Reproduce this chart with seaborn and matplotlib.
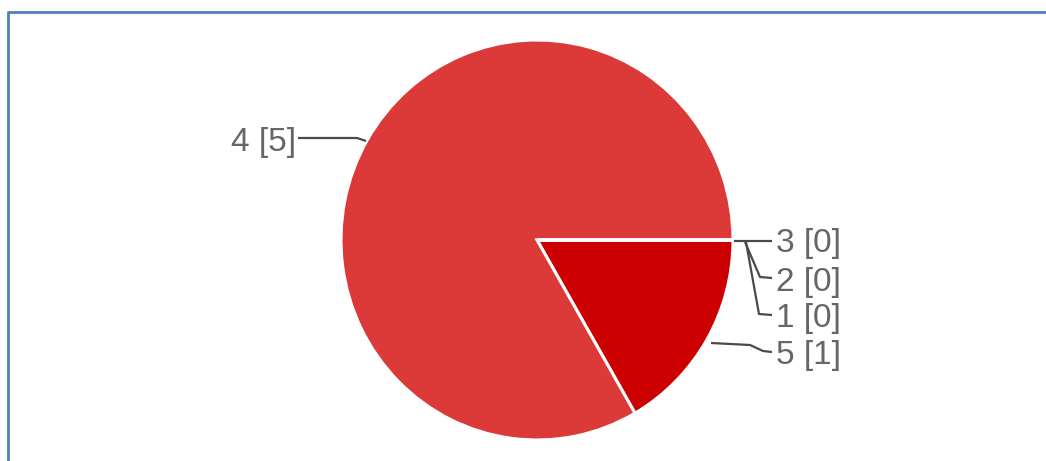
import matplotlib
matplotlib.use("Agg")
import matplotlib.pyplot as plt
import seaborn as sns

# Data
categories = ["5", "4", "3", "2", "1"]
counts = [1, 5, 0, 0, 0]
slice_colors = ["#cc0000", "#dc3939", "#dc3939", "#dc3939", "#dc3939"]

sns.set_theme(style="white")
plt.rcParams["font.family"] = ["Liberation Sans", "DejaVu Sans"]

W, H = 1046, 461
SY = 200 / 196  # slight vertical stretch of the source image

def P(px, py):
    return px, py / SY

fig = plt.figure(figsize=(W / 100, H / 100), dpi=100)
fig.patch.set_facecolor("white")
ax = fig.add_axes([0, 0, 1, 1])

cx, cy = P(537, 240)
ax.pie(counts, colors=slice_colors, startangle=0, counterclock=True,
       center=(cx, cy), radius=196,
       wedgeprops=dict(edgecolor="white", linewidth=2.2))
ax.set_xlim(0, W)
ax.set_ylim(H / SY, 0)
ax.set_aspect("auto")
ax.axis("off")

labels = {c: f"{c} [{n}]" for c, n in zip(categories, counts)}
txt_color = "#666666"
line_color = "#4a4a4a"
fs = 24

def leader(points):
    xs, ys = zip(*[P(x, y) for x, y in points])
    ax.plot(xs, ys, color=line_color, lw=1.6, solid_capstyle="butt")

# 4 [5]
leader([(298, 138), (357, 138), (366, 141)])
ax.text(*P(296, 142), labels["4"], ha="right", va="center", fontsize=fs, color=txt_color)

# right side labels
leader([(734, 241), (772, 241)])
ax.text(*P(776, 243), labels["3"], ha="left", va="center", fontsize=fs, color=txt_color)
leader([(745, 242), (760, 277), (772, 278)])
ax.text(*P(776, 282), labels["2"], ha="left", va="center", fontsize=fs, color=txt_color)
leader([(746, 242), (759, 314), (772, 315)])
ax.text(*P(776, 318), labels["1"], ha="left", va="center", fontsize=fs, color=txt_color)
leader([(711, 343), (750, 345), (763, 351), (772, 352)])
ax.text(*P(776, 355), labels["5"], ha="left", va="center", fontsize=fs, color=txt_color)

# frame lines (top and left) of the source screenshot
frame_kw = dict(color="#4f81bd", lw=2.0, solid_capstyle="butt")
ax.plot(*zip(P(8, 12), P(W, 12)), **frame_kw)
ax.plot(*zip(P(8, 11), P(8, H)), **frame_kw)

fig.savefig("out.png", dpi=100, facecolor="white")
